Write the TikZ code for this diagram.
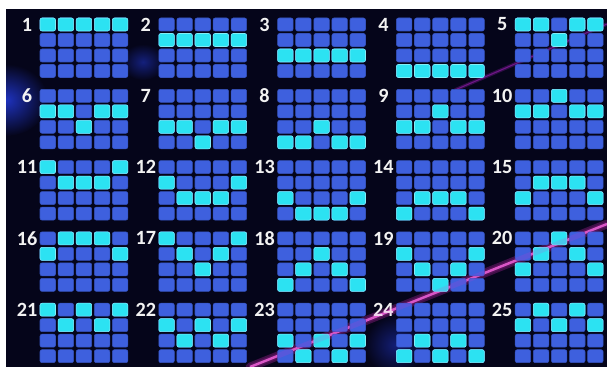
\documentclass[tikz,border=0pt]{standalone}
\usepackage{fontspec}
\setmainfont{Carlito}
\usepackage{xcolor}
\usepackage{tikz}

\definecolor{bgdark}{RGB}{5,5,26}
\definecolor{glowblue}{RGB}{30,50,190}
\definecolor{cellblue}{RGB}{62,96,222}
\definecolor{celllit}{RGB}{44,226,242}
\definecolor{streak}{RGB}{235,45,205}

\begin{document}
\begin{tikzpicture}[
    x=0.02cm, y=-0.02cm,
    cell/.style={rectangle, rounded corners=0.4mm, fill=cellblue, draw=cellblue!85!black, line width=0.3pt, minimum width=3.1mm, minimum height=2.6mm, inner sep=0pt},
    lit/.style={cell, fill=celllit, draw=celllit!60!white},
    numlabel/.style={font=\fontsize{11.5}{13}\selectfont\bfseries, text=white!90!gray, inner sep=0pt}
]
    \useasboundingbox (0,0) rectangle (607,367);

    % Background
    \fill[bgdark] (6,9) rectangle (607,367);
    \begin{scope}
        \clip (6,9) rectangle (607,367);
        \shade[inner color=glowblue, outer color=bgdark] (6,100) ellipse (42 and 36);
        \shade[inner color=glowblue!60!bgdark, outer color=bgdark] (143,62) ellipse (22 and 18);
        \shade[inner color=glowblue!55!bgdark, outer color=bgdark] (395,345) ellipse (30 and 30);
        % Light streaks
        \draw[streak, line width=5pt, opacity=0.25, line cap=round] (250,367) -- (607,224);
        \draw[streak!70!white, line width=1.4pt, opacity=0.85] (250,367) -- (607,224);
        \draw[streak!80!blue, line width=2pt, opacity=0.25] (455,90) -- (607,24);
        \draw[streak!80!blue, line width=0.6pt, opacity=0.45] (455,90) -- (607,24);
    \end{scope}

    % Panels
    \foreach \n/\cells in {
        1/{1/1,2/1,3/1,4/1,5/1},  2/{1/2,2/2,3/2,4/2,5/2},  3/{1/3,2/3,3/3,4/3,5/3},
        4/{1/4,2/4,3/4,4/4,5/4},  5/{1/1,2/1,4/1,5/1,3/2},  6/{1/2,2/2,4/2,5/2,3/3},
        7/{1/3,2/3,4/3,5/3,3/4},  8/{3/3,1/4,2/4,4/4,5/4},  9/{3/2,1/3,2/3,4/3,5/3},
        10/{3/1,1/2,2/2,4/2,5/2}, 11/{1/1,5/1,2/2,3/2,4/2}, 12/{1/2,5/2,2/3,3/3,4/3},
        13/{1/3,5/3,2/4,3/4,4/4}, 14/{2/3,3/3,4/3,1/4,5/4}, 15/{2/2,3/2,4/2,1/3,5/3},
        16/{2/1,3/1,4/1,1/2,5/2}, 17/{1/1,5/1,2/2,4/2,3/3}, 18/{3/2,2/3,4/3,1/4,5/4},
        19/{1/2,5/2,2/3,4/3,3/4}, 20/{3/1,2/2,4/2,1/3,5/3}, 21/{1/1,3/1,5/1,2/2,4/2},
        22/{1/2,3/2,5/2,2/3,4/3}, 23/{1/3,3/3,5/3,2/4,4/4}, 24/{2/3,4/3,1/4,3/4,5/4},
        25/{2/1,4/1,1/2,3/2,5/2}} {
        \pgfmathtruncatemacro\i{mod(\n-1,5)}
        \pgfmathtruncatemacro\j{div(\n-1,5)}
        \pgfmathsetmacro\px{47.75+118.8*\i}
        \pgfmathsetmacro\py{24.5+71.3*\j}
        \foreach \c in {1,...,5}
            \foreach \r in {1,...,4}
                \node[cell] (p\n-\c-\r) at ({\px+18.1*(\c-1)},{\py+15.5*(\r-1)}) {};
        \foreach \c/\r in \cells
            \node[lit] (q\n-\c-\r) at (p\n-\c-\r) {};
        \node[numlabel] (lbl\n) at ({\px-20.75},\py) {\n};
    }

    % Haze over the cells
    \draw[streak, line width=3pt, opacity=0.15] (250,367) -- (607,224);
\end{tikzpicture}
\end{document}
